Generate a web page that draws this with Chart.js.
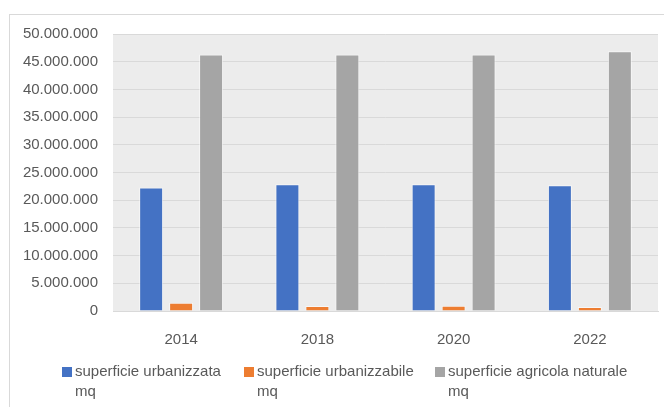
<!DOCTYPE html>
<html>
<head>
<meta charset="utf-8">
<script src="https://cdn.jsdelivr.net/npm/chart.js@4"></script>
<style>
  html, body { margin: 0; padding: 0; background: #fff; }
  #wrap { position: relative; width: 664px; height: 407px; overflow: hidden; }
  #frame { position: absolute; left: 9px; top: 14px; width: 700px; height: 420px; border: 1px solid #d9d9d9; box-sizing: border-box; }
  canvas { position: absolute; left: 0; top: 0; }
  .leg { position: absolute; top: 361px; font: 15px "Liberation Sans", Arial, sans-serif; color: #595959; line-height: 20px; }
  .leg i { position: absolute; left: -13px; top: 6px; width: 10px; height: 10px; }
</style>
</head>
<body>
<div id="wrap">
  <div id="frame"></div>
  <canvas id="chart" width="664" height="407"></canvas>
  <div id="legend"></div>
</div>
<script>
// ── Data ────────────────────────────────────────────────────
const years         = ['2014', '2018', '2020', '2022'];
const urbanizzata   = [22300000, 22900000, 22900000, 22700000];
const urbanizzabile = [1500000, 900000, 950000, 700000];
const agricola      = [46300000, 46300000, 46300000, 46900000];

const seriesNames  = [['superficie urbanizzata', 'mq'], ['superficie urbanizzabile', 'mq'], ['superficie agricola naturale', 'mq']];
const seriesColors = ['#4472c4', '#ed7d31', '#a5a5a5'];
const legendLeft   = [75, 257, 448];

// ── Helpers ─────────────────────────────────────────────────
const fmt = v => String(v).replace(/\B(?=(\d{3})+(?!\d))/g, '.');
const FONT = { family: 'Liberation Sans', size: 15 };

const plotBg = {
  id: 'plotBg',
  beforeDraw(chart) {
    const { ctx, chartArea: a } = chart;
    ctx.save();
    ctx.fillStyle = '#ececec';
    ctx.fillRect(a.left, a.top, a.right - a.left, a.bottom - a.top);
    ctx.restore();
  }
};

// ── Chart ───────────────────────────────────────────────────
const datasets = [urbanizzata, urbanizzabile, agricola].map((data, i) => ({
  label: seriesNames[i].join(' '),
  data,
  backgroundColor: seriesColors[i],
  borderColor: 'rgba(255,255,255,0.6)',
  borderWidth: 1,
  categoryPercentage: 0.66,
  barPercentage: 0.8
}));

new Chart(document.getElementById('chart'), {
  type: 'bar',
  data: { labels: years, datasets },
  plugins: [plotBg],
  options: {
    responsive: false,
    animation: false,
    layout: { padding: { left: 10, top: 34, right: 6, bottom: 56 } },
    plugins: { legend: { display: false }, tooltip: { enabled: false } },
    scales: {
      x: {
        grid: { display: false },
        border: { color: '#d9d9d9' },
        ticks: { color: '#595959', font: FONT, padding: 12 },
        afterFit: s => { s.height = 40; }
      },
      y: {
        min: 0, max: 50000000,
        grid: { color: '#d9d9d9', drawTicks: false },
        border: { display: false },
        ticks: { stepSize: 5000000, color: '#595959', font: FONT, padding: 15, callback: v => fmt(v) },
        afterFit: s => { s.width = 103; }
      }
    }
  }
});

// ── HTML legend (wrapping labels) ───────────────────────────
const legend = document.getElementById('legend');
seriesNames.forEach((lines, i) => {
  const d = document.createElement('div');
  d.className = 'leg';
  d.style.left = legendLeft[i] + 'px';
  d.innerHTML = '<i style="background:' + seriesColors[i] + '"></i>' + lines.join('<br>');
  legend.appendChild(d);
});
</script>
</body>
</html>
